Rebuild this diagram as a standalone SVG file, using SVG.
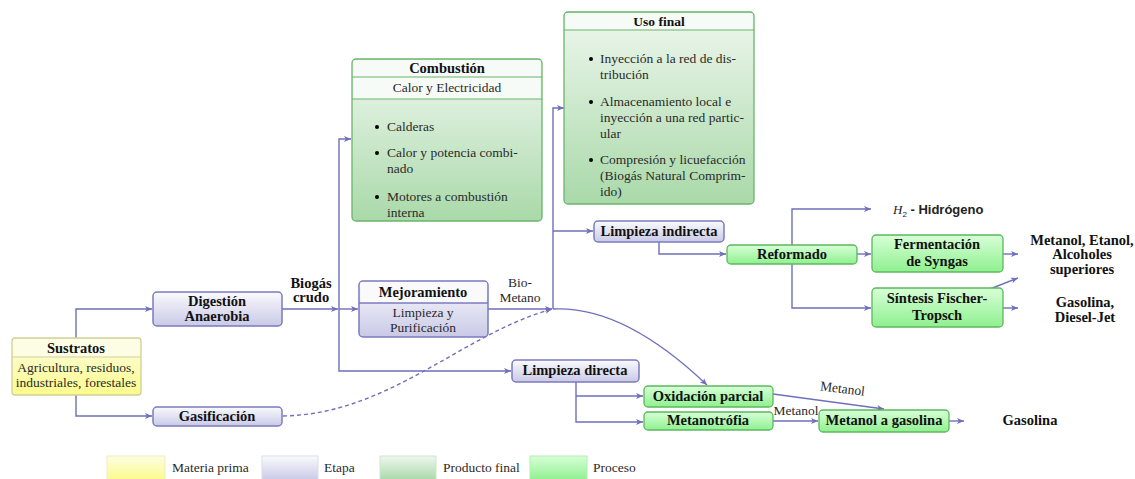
<svg xmlns="http://www.w3.org/2000/svg" width="1135" height="479" viewBox="0 0 1135 479" font-family="Liberation Serif, DejaVu Serif, serif">
<defs>
<linearGradient id="gEt" x1="0" y1="0" x2="0" y2="1"><stop offset="0" stop-color="#fafafd"/><stop offset="1" stop-color="#c9c9e7"/></linearGradient>
<linearGradient id="gPr" x1="0" y1="0" x2="0" y2="1"><stop offset="0" stop-color="#d8ffd8"/><stop offset="1" stop-color="#8ff08f"/></linearGradient>
<linearGradient id="gPf" x1="0" y1="0" x2="0" y2="1"><stop offset="0" stop-color="#eef7ee"/><stop offset="1" stop-color="#a9d9a9"/></linearGradient>
<linearGradient id="gMp" x1="0" y1="0" x2="0" y2="1"><stop offset="0" stop-color="#fdfde2"/><stop offset="1" stop-color="#fbfb8c"/></linearGradient>
<marker id="ar" markerUnits="userSpaceOnUse" markerWidth="8" markerHeight="8" refX="7" refY="4" orient="auto"><path d="M0,1 L7,4 L0,7 L1.8,4 z" fill="#6f6fbb"/></marker>
<style>
text{font-family:'Liberation Serif','DejaVu Serif',serif;font-size:13.5px;fill:#2a2a2a}
.b{font-weight:bold;font-size:14.5px;fill:#111}
.c{text-anchor:middle}
.et{fill:url(#gEt);stroke:#7b7bc0;stroke-width:1.5}
.pr{fill:url(#gPr);stroke:#5cb85c;stroke-width:1.3}
.pf{fill:url(#gPf);stroke:#6ab46a;stroke-width:1.3}
.mp{fill:url(#gMp);stroke:#cfcf9a;stroke-width:1.3}
.ln{fill:none;stroke:#6f6fbb;stroke-width:1.4}
.ah{marker-end:url(#ar)}
.dash{stroke-dasharray:4,3}
</style>
</defs>

<g id="connectors">
<path class="ln ah" d="M76,338 V309 H152"/>
<path class="ln ah" d="M76,395 V416 H152"/>
<path class="ln ah" d="M282,309 H338"/>
<path class="ln ah" d="M339,309 H358"/>
<path class="ln ah" d="M339,309 V139 H351"/>
<path class="ln ah" d="M339,309 V371 H511"/>
<path class="ln ah" d="M488,309 H552"/>
<path class="ln ah" d="M553,309 V108 H564"/>
<path class="ln ah" d="M553,231 H593"/>
<path class="ln ah dash" d="M283,416 C 390,414 460,335 552,309"/>
<path class="ln ah" d="M553,309 C 610,306 665,345 707,385"/>
<path class="ln ah" d="M659,242 V254 H726"/>
<path class="ln ah" d="M857,254 H871"/>
<path class="ln ah" d="M792,264 V308 H871"/>
<path class="ln ah" d="M792,245 V209 H871"/>
<path class="ln ah" d="M1003,254 H1018"/>
<path class="ln ah" d="M1003,308 H1018"/>
<path class="ln ah" d="M990,289 L1018,278"/>
<path class="ln ah" d="M576,382 V422 H643"/>
<path class="ln ah" d="M576,396 H643"/>
<path class="ln ah" d="M773,394 L884,409"/>
<path class="ln ah" d="M773,421 H818"/>
<path class="ln ah" d="M949,421 H964"/>
<text x="311" y="288" class="b c">Biogás</text>
<text x="311" y="302" class="b c">crudo</text>
<text x="520" y="287" class="c">Bio-</text>
<text x="520" y="302" class="c">Metano</text>
<text x="0" y="0" transform="translate(842,393) rotate(7)" class="c">Metanol</text>
<text x="796" y="415" class="c">Metanol</text>
</g>

<g id="sustratos">
<rect x="12" y="338" width="129" height="57" rx="3" class="mp"/>
<path d="M13.5,339.5 H139.5 V357 H13.5 Z" fill="#fdfde6"/>
<line x1="12" y1="357" x2="141" y2="357" stroke="#cfcf9a" stroke-width="1.2"/>
<text x="76" y="353" class="b c">Sustratos</text>
<text x="76" y="372" class="c">Agricultura, residuos,</text>
<text x="76" y="387" class="c">industriales, forestales</text>
</g>

<g id="digestion">
<rect x="153" y="292" width="129" height="34" rx="4" class="et"/>
<text x="217" y="306" class="b c">Digestión</text>
<text x="217" y="321" class="b c">Anaerobia</text>
</g>

<g id="gasificacion">
<rect x="153" y="407" width="129" height="19" rx="4" class="et"/>
<text x="217" y="421" class="b c">Gasificación</text>
</g>

<g id="mejoramiento">
<rect x="359" y="281" width="129" height="56" rx="4" class="et"/>
<path d="M360.5,282.5 H486.5 V303 H360.5 Z" fill="#fafafd"/>
<line x1="359" y1="303" x2="488" y2="303" stroke="#7b7bc0" stroke-width="1.3"/>
<text x="423" y="297" class="b c">Mejoramiento</text>
<text x="423" y="317" class="c">Limpieza y</text>
<text x="423" y="332" class="c">Purificación</text>
</g>

<g id="combustion">
<rect x="352" y="59" width="190" height="162" rx="4" class="pf"/>
<path d="M353.5,60.5 H540.5 V99 H353.5 Z" fill="#f7fbf7"/>
<line x1="352" y1="77" x2="542" y2="77" stroke="#6ab46a" stroke-width="1.2"/>
<line x1="352" y1="99" x2="542" y2="99" stroke="#6ab46a" stroke-width="1.2"/>
<text x="447" y="73" class="b c">Combustión</text>
<text x="447" y="92" class="c">Calor y Electricidad</text>
<circle cx="377" cy="127" r="2"/>
<text x="387" y="131">Calderas</text>
<circle cx="377" cy="153" r="2"/>
<text x="387" y="157">Calor y potencia combi-</text>
<text x="387" y="173">nado</text>
<circle cx="377" cy="197" r="2"/>
<text x="387" y="201">Motores a combustión</text>
<text x="387" y="217">interna</text>
</g>

<g id="usofinal">
<rect x="564" y="12" width="190" height="192" rx="4" class="pf"/>
<path d="M565.5,13.5 H752.5 V30 H565.5 Z" fill="#f7fbf7"/>
<line x1="564" y1="30" x2="754" y2="30" stroke="#6ab46a" stroke-width="1.2"/>
<text x="659" y="26" class="b c" style="font-size:13.5px">Uso final</text>
<circle cx="591" cy="59" r="2"/>
<text x="600" y="63">Inyección a la red de dis-</text>
<text x="600" y="79">tribución</text>
<circle cx="591" cy="102" r="2"/>
<text x="600" y="106">Almacenamiento local e</text>
<text x="600" y="122">inyección a una red partic-</text>
<text x="600" y="138">ular</text>
<circle cx="591" cy="160" r="2"/>
<text x="600" y="164">Compresión y licuefacción</text>
<text x="600" y="180">(Biogás Natural Comprim-</text>
<text x="600" y="196">ido)</text>
</g>

<g id="limpiezaindirecta">
<rect x="594" y="221" width="130" height="21" rx="4" class="et"/>
<text x="659" y="236" class="b c">Limpieza indirecta</text>
</g>

<g id="reformado">
<rect x="727" y="245" width="130" height="19" rx="4" class="pr"/>
<text x="792" y="259" class="b c">Reformado</text>
</g>

<g id="hidrogeno">
<text x="893" y="214" style="font-family:'Liberation Sans',sans-serif;font-size:13px;font-weight:bold;fill:#222"><tspan style="font-family:'Liberation Serif',serif;font-style:italic;font-weight:normal">H</tspan><tspan font-size="8" font-weight="normal" dy="3">2</tspan><tspan dy="-3"> - Hidrógeno</tspan></text>
</g>

<g id="fermentacion">
<rect x="872" y="235" width="131" height="37" rx="4" class="pr"/>
<text x="937" y="249" class="b c">Fermentación</text>
<text x="937" y="266" class="b c">de Syngas</text>
</g>

<g id="fischer">
<rect x="872" y="288" width="131" height="39" rx="4" class="pr"/>
<text x="937" y="303" class="b c">Síntesis Fischer-</text>
<text x="937" y="320" class="b c">Tropsch</text>
</g>

<g id="alcoholes">
<text x="1082" y="245" class="b c">Metanol, Etanol,</text>
<text x="1082" y="259" class="b c">Alcoholes</text>
<text x="1082" y="274" class="b c">superiores</text>
</g>

<g id="gasolinadiesel">
<text x="1085" y="307" class="b c">Gasolina,</text>
<text x="1085" y="322" class="b c">Diesel-Jet</text>
</g>

<g id="limpiezadirecta">
<rect x="512" y="360" width="127" height="22" rx="4" class="et"/>
<text x="575" y="375" class="b c">Limpieza directa</text>
</g>

<g id="oxidacion">
<rect x="644" y="386" width="129" height="21" rx="4" class="pr"/>
<text x="708" y="401" class="b c">Oxidación parcial</text>
</g>

<g id="metanotrofia">
<rect x="644" y="412" width="129" height="18" rx="4" class="pr"/>
<text x="708" y="425" class="b c">Metanotrófia</text>
</g>

<g id="metanolgasolina">
<rect x="819" y="410" width="130" height="22" rx="4" class="pr"/>
<text x="884" y="425" class="b c">Metanol a gasolina</text>
</g>

<g id="gasolina">
<text x="1030" y="425" class="b c">Gasolina</text>
</g>

<g id="legend">
<rect x="107" y="456" width="58" height="24" fill="url(#gMp)" stroke="#ededc0" stroke-width="1"/>
<text x="172" y="472">Materia prima</text>
<rect x="262" y="456" width="56" height="24" fill="url(#gEt)" stroke="#dcdcee" stroke-width="1"/>
<text x="324" y="472">Etapa</text>
<rect x="380" y="456" width="56" height="24" fill="url(#gPf)" stroke="#cde6cd" stroke-width="1"/>
<text x="443" y="472">Producto final</text>
<rect x="530" y="456" width="57" height="24" fill="url(#gPr)" stroke="#b0efb0" stroke-width="1"/>
<text x="593" y="472">Proceso</text>
</g>
</svg>
